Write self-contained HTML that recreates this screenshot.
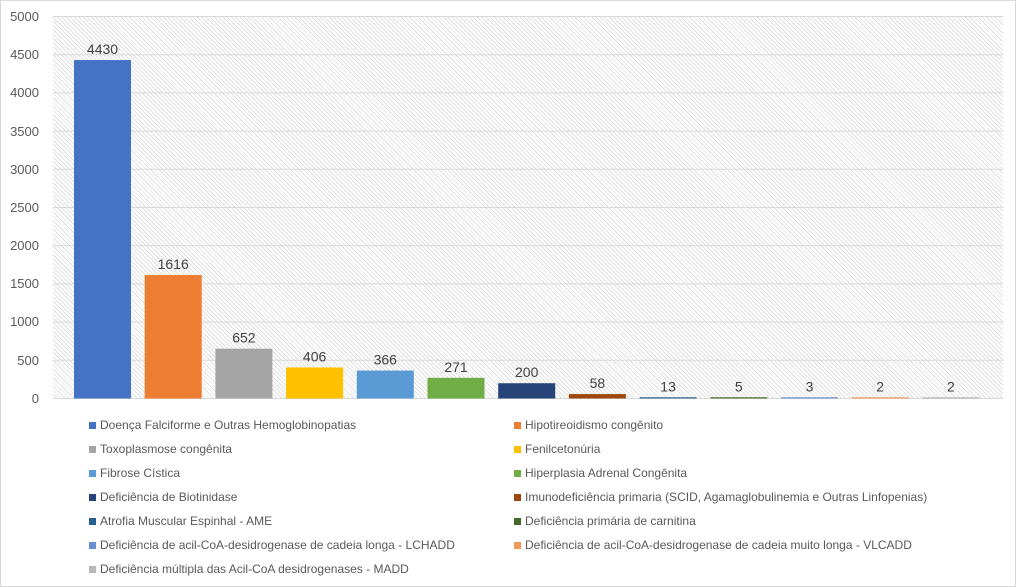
<!DOCTYPE html>
<html><head><meta charset="utf-8"><style>
body{margin:0;background:#fff;font-family:"Liberation Sans",sans-serif;}
#c{position:relative;width:1014px;height:585px;border:1px solid #d9d9d9;overflow:hidden;}
.hatch{position:absolute;left:52px;top:15px;width:950px;height:382px;background:repeating-linear-gradient(45deg,#fff 0,#fff 2px,#e0e0e0 2px,#e0e0e0 3px);}
.lg{position:absolute;font-size:12px;color:#595959;white-space:nowrap;}
.lg i{display:inline-block;width:7px;height:7px;margin-right:4px;vertical-align:0px;}
</style></head><body><div id="c">
<div class="hatch"></div>
<svg width="1016" height="587" style="position:absolute;left:0;top:0" font-family="Liberation Sans, sans-serif">
<g stroke="#d9d9d9" stroke-width="1">
<line x1="52" x2="1002" y1="15.5" y2="15.5"/><line x1="52" x2="1002" y1="53.7" y2="53.7"/><line x1="52" x2="1002" y1="91.9" y2="91.9"/><line x1="52" x2="1002" y1="130.1" y2="130.1"/><line x1="52" x2="1002" y1="168.3" y2="168.3"/><line x1="52" x2="1002" y1="206.5" y2="206.5"/><line x1="52" x2="1002" y1="244.7" y2="244.7"/><line x1="52" x2="1002" y1="282.9" y2="282.9"/><line x1="52" x2="1002" y1="321.1" y2="321.1"/><line x1="52" x2="1002" y1="359.3" y2="359.3"/><line x1="52" x2="1002" y1="397.5" y2="397.5"/>
</g>
<g font-size="13" fill="#595959" text-anchor="end">
<text x="38" y="20">5000</text><text x="38" y="58">4500</text><text x="38" y="96">4000</text><text x="38" y="135">3500</text><text x="38" y="173">3000</text><text x="38" y="211">2500</text><text x="38" y="249">2000</text><text x="38" y="287">1500</text><text x="38" y="325">1000</text><text x="38" y="364">500</text><text x="38" y="402">0</text>
</g>
<g id="bars"></g>
</svg>
<div class="lg" style="left:88px;top:417px"><i style="background:#4472C4"></i>Doença Falciforme e Outras Hemoglobinopatias</div>
<div class="lg" style="left:513px;top:417px"><i style="background:#ED7D31"></i>Hipotireoidismo congênito</div>
<div class="lg" style="left:88px;top:441px"><i style="background:#A5A5A5"></i>Toxoplasmose congênita</div>
<div class="lg" style="left:513px;top:441px"><i style="background:#FFC000"></i>Fenilcetonúria</div>
<div class="lg" style="left:88px;top:465px"><i style="background:#5B9BD5"></i>Fibrose Cística</div>
<div class="lg" style="left:513px;top:465px"><i style="background:#70AD47"></i>Hiperplasia Adrenal Congênita</div>
<div class="lg" style="left:88px;top:489px"><i style="background:#264478"></i>Deficiência de Biotinidase</div>
<div class="lg" style="left:513px;top:489px"><i style="background:#9E480E"></i>Imunodeficiência primaria (SCID, Agamaglobulinemia e Outras Linfopenias)</div>
<div class="lg" style="left:88px;top:513px"><i style="background:#255E91"></i>Atrofia Muscular Espinhal - AME</div>
<div class="lg" style="left:513px;top:513px"><i style="background:#43682B"></i>Deficiência primária de carnitina</div>
<div class="lg" style="left:88px;top:537px"><i style="background:#698ED0"></i>Deficiência de acil-CoA-desidrogenase de cadeia longa  - LCHADD</div>
<div class="lg" style="left:513px;top:537px"><i style="background:#F1975A"></i>Deficiência de acil-CoA-desidrogenase de cadeia muito longa - VLCADD</div>
<div class="lg" style="left:88px;top:561px"><i style="background:#B7B7B7"></i>Deficiência múltipla das Acil-CoA desidrogenases - MADD</div>
</div>
<script>
var v=[4430,1616,652,406,366,271,200,58,13,5,3,2,2];
var c=["#4472C4","#ED7D31","#A5A5A5","#FFC000","#5B9BD5","#70AD47","#264478","#9E480E","#255E91","#43682B","#698ED0","#F1975A","#B7B7B7"];
var s="";
for(var i=0;i<13;i++){var cx=101.5+70.7*i,h=Math.max(v[i]*382/5000,1.2),y=397.5-h;
s+='<rect x="'+(cx-28.5)+'" y="'+y+'" width="57" height="'+h+'" fill="'+c[i]+'"/>';
s+='<text x="'+cx+'" y="'+(y-6)+'" font-size="14" fill="#404040" text-anchor="middle">'+v[i]+'</text>';}
document.getElementById("bars").innerHTML=s;
</script>
</body></html>
